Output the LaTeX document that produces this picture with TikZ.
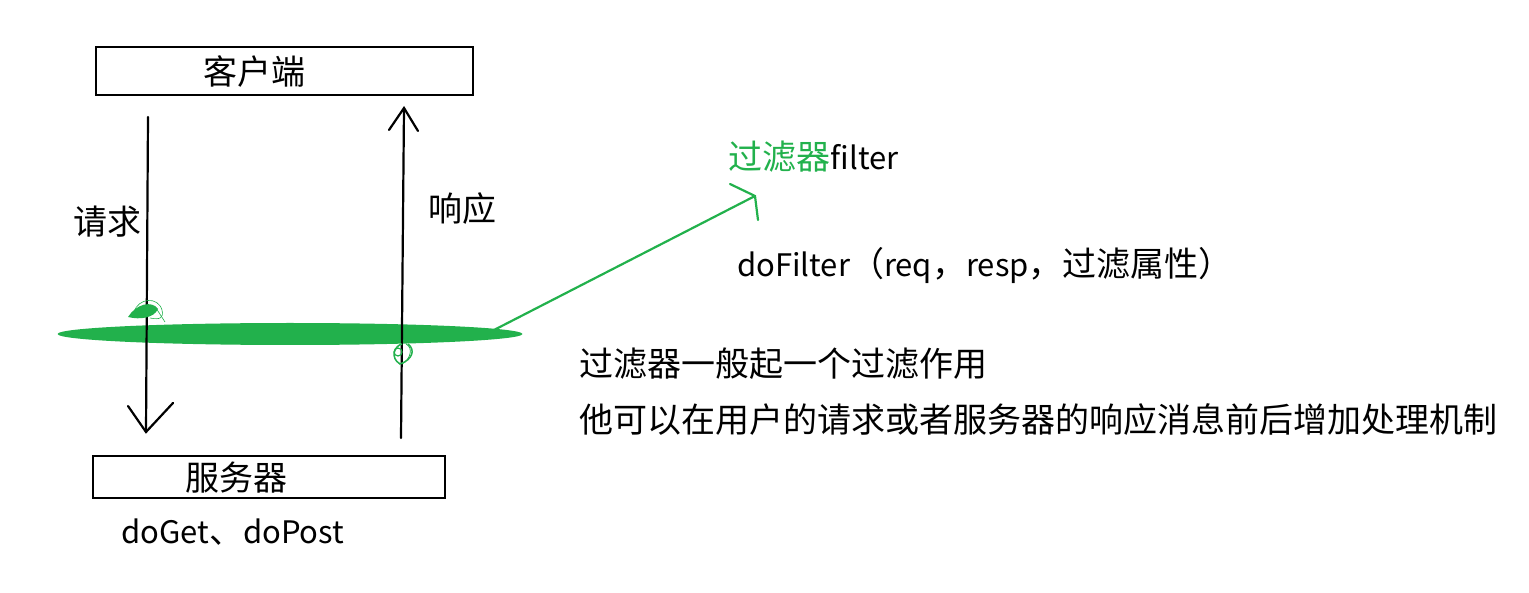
\documentclass[tikz,border=0pt]{standalone}
\usepackage{fontspec}
\usetikzlibrary{shapes.geometric}
\setmainfont{Noto Sans CJK SC}
\definecolor{pgreen}{RGB}{34,177,76}
\newcommand{\lat}[1]{{\fontsize{31}{36}\selectfont #1}}
\begin{document}
\begin{tikzpicture}[x=1pt,y=-1pt,
  lbl/.style={font=\fontsize{34}{40}\selectfont, inner sep=0pt, anchor=west},
  box/.style={draw=black, line width=2.2pt},
  stroke/.style={line width=2.2pt, line cap=round},
  gstroke/.style={draw=pgreen, line width=2.2pt, line cap=round}]
\useasboundingbox (0,0) rectangle (1529,593);
% boxes
\draw[box] (96,47) rectangle (473,95);
\node[lbl] (client) at (203,72) {客户端};
\draw[box] (93,456) rectangle (445,498);
\node[lbl] (server) at (185,478) {服务器};
\node[lbl] (doget) at (121,532) {\lat{doGet}、\lat{doPost}};
% green filter ellipse
\node[fill=pgreen, ellipse, minimum width=465pt, minimum height=22pt, inner sep=0pt] (filt) at (290,334) {};
% request arrow
\coordinate (reqtop) at (148,117);
\coordinate (reqbot) at (146,432);
\draw[stroke] (reqtop) -- (reqbot);
\draw[stroke] (128,406) -- (reqbot) -- (173,403);
\node[lbl] (req) at (73,222) {请求};
% response arrow
\coordinate (resbot) at (401,438);
\coordinate (restop) at (404,108);
\draw[stroke] (resbot) -- (restop);
\draw[stroke] (389,130) -- (restop) -- (418,131);
\node[lbl] (res) at (428,209) {响应};
% scribbles
\fill[pgreen] (128,317) .. controls (136,304) and (152,300) .. (158,309) .. controls (154,318) and (140,320) .. (128,317) -- cycle;
\draw[pgreen, line width=0.6pt] (134,312) .. controls (138,298) and (158,296) .. (162,310) .. controls (164,318) and (160,320) .. (150,318);
\draw[pgreen, line width=0.6pt] (156,308) -- (165,322);
\draw[pgreen, line width=1.5pt] (402,344) .. controls (394,346) and (390,358) .. (400,364) .. controls (412,360) and (416,350) .. (408,344);
\draw[pgreen, line width=1.2pt] (398,352) circle (4pt);
\draw[pgreen, line width=0.8pt] (406,344) .. controls (414,348) and (410,360) .. (402,364);
% green pointer
\coordinate (gtip) at (755,196);
\draw[gstroke] (494,330) -- (gtip);
\draw[gstroke] (730,184) -- (gtip) -- (758,220);
\node[lbl, text=pgreen] (gname) at (728,157) {过滤器};
\node[lbl] (fname) at (gname.east) {\lat{filter}};
\node[lbl] (dofilter) at (737,265) {\lat{doFilter}（\lat{req}，\lat{resp}，过滤属性）};
\node[lbl] (desc1) at (579,364) {过滤器一般起一个过滤作用};
\node[lbl] (desc2) at (579,420) {他可以在用户的请求或者服务器的响应消息前后增加处理机制};
\end{tikzpicture}
\end{document}
